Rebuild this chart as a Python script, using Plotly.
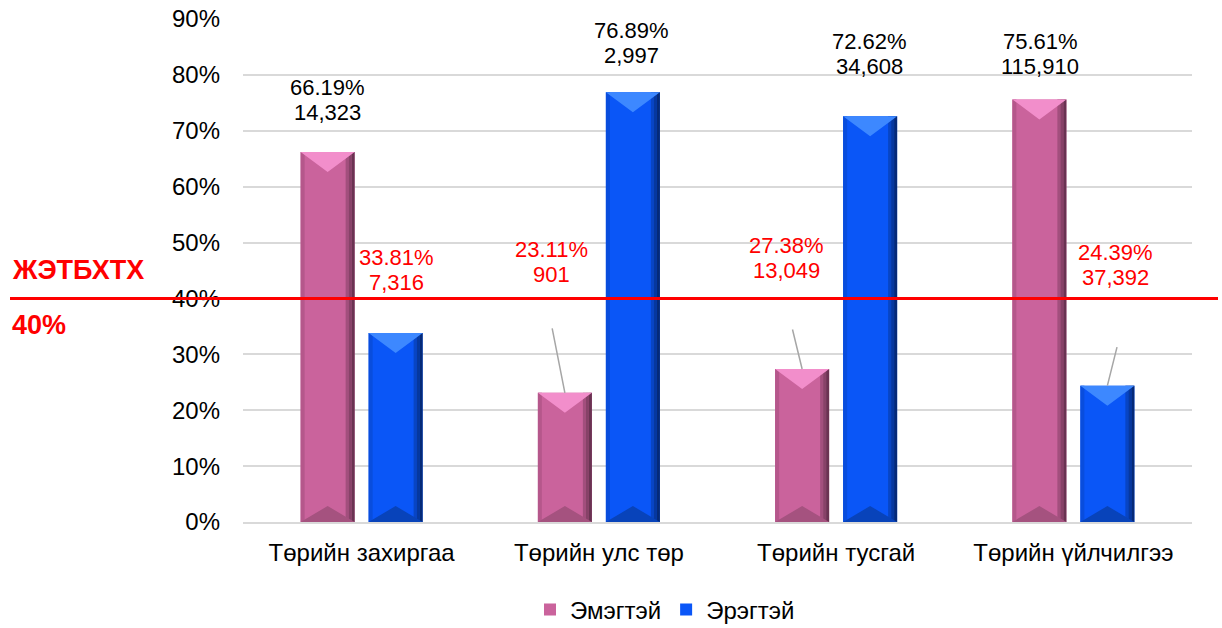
import plotly.graph_objects as go

categories = ["Төрийн захиргаа", "Төрийн улс төр", "Төрийн тусгай", "Төрийн үйлчилгээ"]
female_pct = [66.19, 23.11, 27.38, 75.61]
male_pct = [33.81, 76.89, 72.62, 24.39]
female_cnt = ["14,323", "901", "13,049", "115,910"]
male_cnt = ["7,316", "2,997", "34,608", "37,392"]
threshold = 40
tick_vals = [0, 10, 20, 30, 40, 50, 60, 70, 80, 90]
tick_text = [f"{v}%" for v in tick_vals]

FONT = "Liberation Sans, Arial, sans-serif"

# layout geometry (pixels)
W, H = 1222, 628
ML, MR, MT, MB = 243, 30, 19, 106
PW, PH = W - ML - MR, H - MT - MB
YMAX = 90
px_x = 4.0 / PW          # data units per pixel on x (range -0.5..3.5)
px_y = YMAX / PH         # data units per pixel on y

BAR_W = 54 * px_x
SHIFT = 34 * px_x
xs = list(range(len(categories)))

series = [
    dict(name="Эмэгтэй", vals=female_pct, cnt=female_cnt, side=-1,
         base="#CA639C", edge_l="#B5578B", dark=["#A24F7D", "#874268", "#6A3352"],
         top="#F28ECB", bot="#A5527F"),
    dict(name="Эрэгтэй", vals=male_pct, cnt=male_cnt, side=1,
         base="#0A56F7", edge_l="#094DDD", dark=["#0845C4", "#06389F", "#052A78"],
         top="#3D88FF", bot="#0843BA"),
]

fig = go.Figure()
for s in series:
    c = s["side"] * SHIFT
    left = -BAR_W / 2 + c
    fig.add_trace(go.Bar(name=s["name"], x=xs, y=s["vals"], width=BAR_W, offset=left,
                         marker=dict(color=s["base"], line=dict(width=0)),
                         showlegend=True, hoverinfo="skip"))
    fig.add_trace(go.Bar(x=xs, y=s["vals"], width=4 * px_x, offset=left,
                         marker=dict(color=s["edge_l"], line=dict(width=0)),
                         showlegend=False, hoverinfo="skip"))
    for k, col in enumerate(s["dark"]):
        wpx = 3
        off = left + BAR_W - (len(s["dark"]) - k) * wpx * px_x
        fig.add_trace(go.Bar(x=xs, y=s["vals"], width=wpx * px_x, offset=off,
                             marker=dict(color=col, line=dict(width=0)),
                             showlegend=False, hoverinfo="skip"))
    tx, ty, bx, by = [], [], [], []
    for i, v in zip(xs, s["vals"]):
        xl, xr, xm = i + left, i + left + BAR_W, i + c
        tx += [xl, xr, xm, xl, None]
        ty += [v, v, v - 20 * px_y, v, None]
        bx += [xl, xr, xm, xl, None]
        by += [0, 0, 16 * px_y, 0, None]
    fig.add_trace(go.Scatter(x=tx, y=ty, mode="lines", fill="toself", fillcolor=s["top"],
                             line=dict(width=0), showlegend=False, hoverinfo="skip"))
    fig.add_trace(go.Scatter(x=bx, y=by, mode="lines", fill="toself", fillcolor=s["bot"],
                             line=dict(width=0), showlegend=False, hoverinfo="skip"))

# label placement (pixel offsets from bar top): (dx, dy of label centre, leader (ax, ay) or None)
label_off = {
    -1: [(0, -52, None), (-13, -131, (-13, -66)), (-16, -111, (-10, -41)), (1, -45, None)],
    1: [(1, -63, None), (-1, -49, None), (-1, -62, None), (8, -121, (10, -40))],
}
HALF_LINE = 12.5

for s in series:
    for i, (v, cnt) in enumerate(zip(s["vals"], s["cnt"])):
        dx, dy, leader = label_off[s["side"]][i]
        color = "black" if v > threshold else "#FF0000"
        xpos = i + s["side"] * SHIFT
        for txt, sh in ((f"{v:.2f}%", -dy + HALF_LINE), (cnt, -dy - HALF_LINE)):
            fig.add_annotation(x=xpos, y=v, xref="x", yref="y", text=txt, showarrow=False,
                               xshift=dx, yshift=sh, xanchor="center", yanchor="middle",
                               font=dict(family=FONT, size=22, color=color))
        if leader:
            fig.add_annotation(x=xpos, y=v, xref="x", yref="y", text="", showarrow=True,
                               arrowhead=0, arrowwidth=1.5, arrowcolor="#A6A6A6",
                               ax=leader[0], ay=leader[1], standoff=0, startstandoff=0)

fig.add_shape(type="line", xref="paper", yref="y", x0=(10 - ML) / PW, x1=(1218 - ML) / PW,
              y0=threshold, y1=threshold, line=dict(color="#FF0000", width=3), layer="above")
fig.add_annotation(xref="paper", yref="y", x=(10 - ML) / PW, y=threshold, yshift=28,
                   text="<b>ЖЭТБХТХ</b>", showarrow=False, xanchor="left",
                   font=dict(family=FONT, size=27, color="#FF0000"))
fig.add_annotation(xref="paper", yref="y", x=(10 - ML) / PW, y=threshold, yshift=-27,
                   text="<b>40%</b>", showarrow=False, xanchor="left",
                   font=dict(family=FONT, size=27, color="#FF0000"))

fig.update_layout(
    width=W, height=H,
    margin=dict(l=ML, r=MR, t=MT, b=MB, autoexpand=False),
    paper_bgcolor="white", plot_bgcolor="white",
    barmode="overlay",
    font=dict(family=FONT, size=24, color="black"),
    legend=dict(orientation="h", xref="container", yref="container",
                x=530 / W, xanchor="left", y=(H - 610) / H, yanchor="middle",
                font=dict(size=24), itemwidth=30, tracegroupgap=0),
    showlegend=True,
)
fig.update_yaxes(range=[0, YMAX], tickvals=tick_vals, ticktext=tick_text,
                 gridcolor="#D9D9D9", gridwidth=1.5, zeroline=False,
                 tickfont=dict(size=24), ticks="", ticklabelstandoff=22, automargin=False)
fig.update_xaxes(range=[-0.5, 3.5], tickvals=xs, ticktext=categories,
                 showline=True, linecolor="#D9D9D9", linewidth=1.5, showgrid=False,
                 zeroline=False, tickfont=dict(size=24), ticks="", automargin=False,
                 ticklabelstandoff=8)

fig.write_html("out.html", config={"displayModeBar": False},
               post_script="document.body.style.margin='0';document.body.style.overflow='hidden';")
